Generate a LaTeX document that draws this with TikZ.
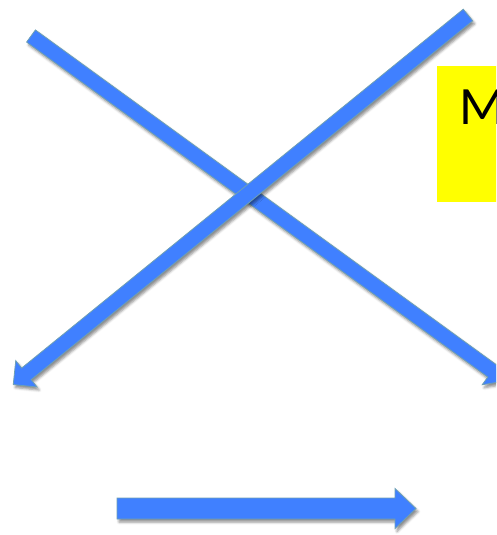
\documentclass[tikz,border=0pt]{standalone}
\usepackage{fontspec}
\setmainfont{Carlito}
\usetikzlibrary{shadows.blur}
\definecolor{arrowblue}{RGB}{64,128,255}
\definecolor{arrowedge}{RGB}{110,160,180}
\definecolor{boxyellow}{RGB}{255,255,0}
\begin{document}
\begin{tikzpicture}[x=1pt,y=-1pt,
  blockarrow/.style={fill=arrowblue, draw=arrowedge, line width=0.8pt,
    blur shadow={shadow xshift=2pt, shadow yshift=-3pt, shadow blur radius=2.5pt, shadow opacity=45}},
  labelbox/.style={fill=boxyellow},
  bigtext/.style={anchor=base west, inner sep=0pt, font=\fontsize{54}{54}\selectfont}]
\useasboundingbox (0,0) rectangle (496,535);
\clip (0,0) rectangle (496,535);
% yellow box with text
\fill[labelbox] (437,66) rectangle (510,202);
\node[bigtext] (mtext) at (459,124) {M};
% arrow 1: top-left to bottom-right
\begin{scope}[shift={(31,36)}, rotate=-35.99]
  \path[blockarrow] (0,-7.5) -- (570,-7.5) -- (570,-17) -- (587,0) -- (570,17) -- (570,7.5) -- (0,7.5) -- cycle;
\end{scope}
% arrow 2: top-right to bottom-left (on top)
\begin{scope}[shift={(468,15)}, rotate=-140.9]
  \path[blockarrow] (0,-7.5) -- (569,-7.5) -- (569,-17) -- (586,0) -- (569,17) -- (569,7.5) -- (0,7.5) -- cycle;
\end{scope}
% bottom arrow
\begin{scope}[shift={(117,508.5)}]
  \path[blockarrow] (0,-10.5) -- (278,-10.5) -- (278,-20) -- (299,0) -- (278,20) -- (278,10.5) -- (0,10.5) -- cycle;
\end{scope}
\end{tikzpicture}
\end{document}
